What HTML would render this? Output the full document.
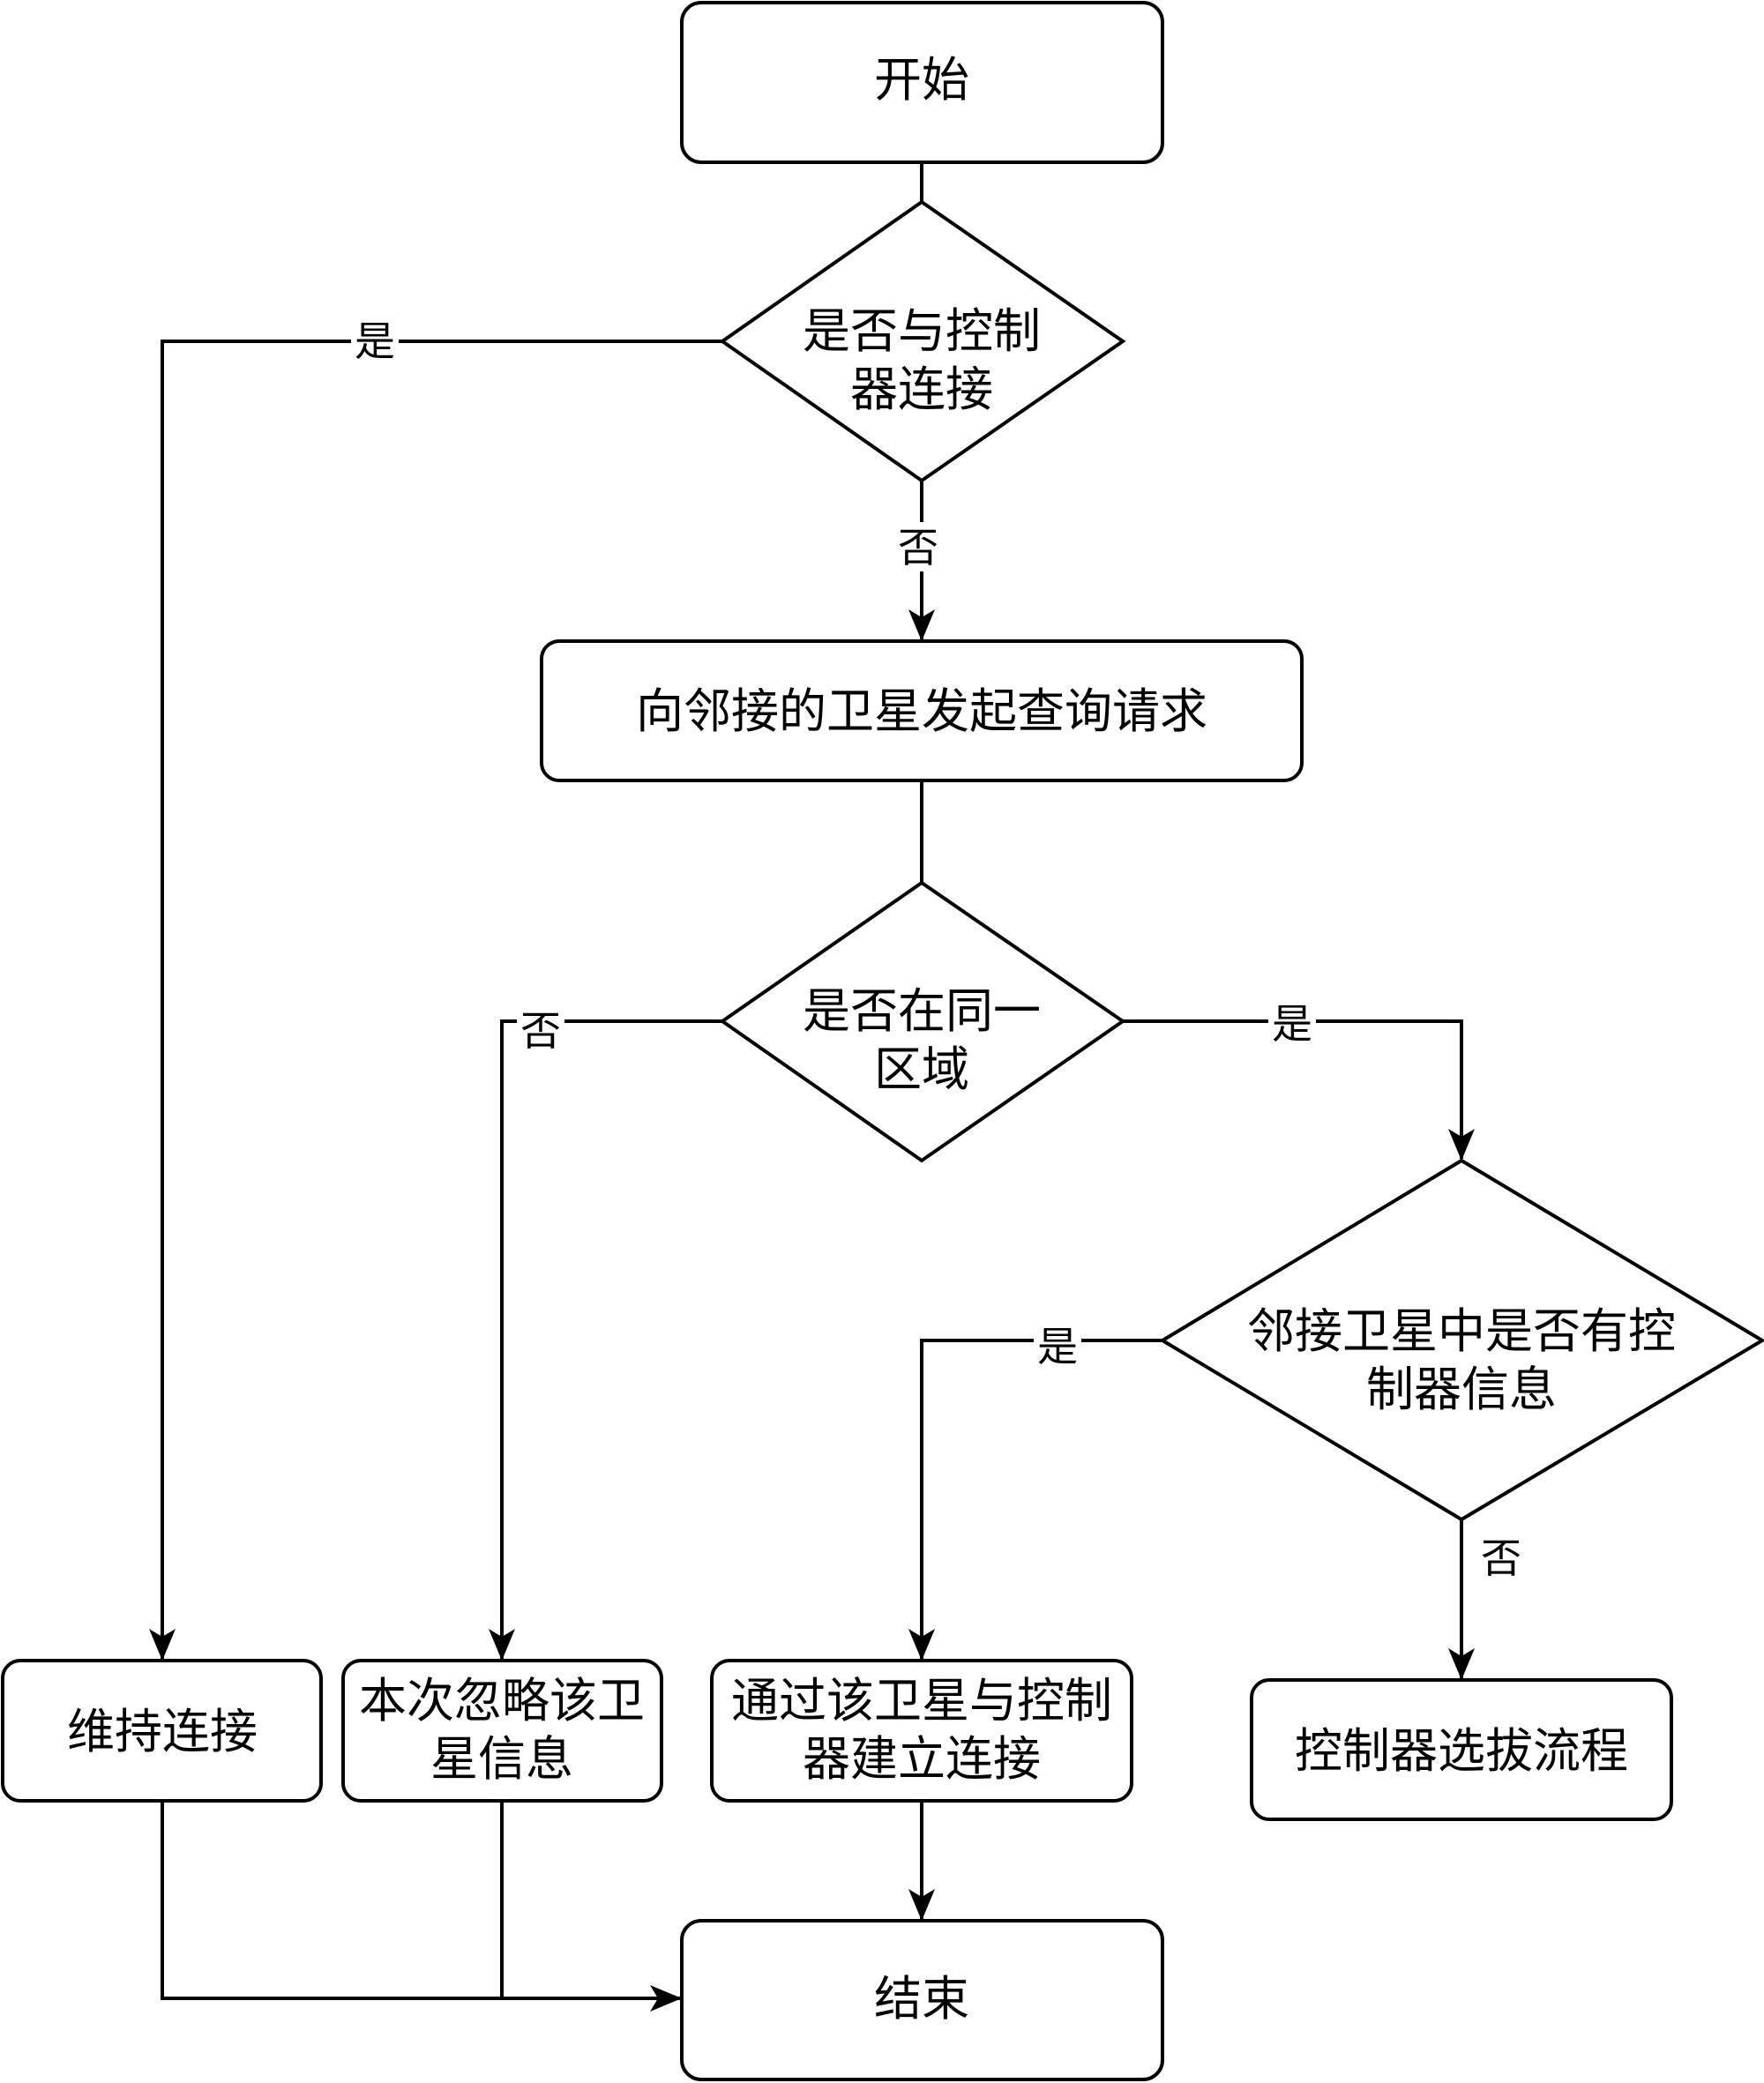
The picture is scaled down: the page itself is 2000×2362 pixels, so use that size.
<!DOCTYPE html>
<html><head><meta charset="utf-8"><style>
html,body{margin:0;padding:0;background:#fff}
svg{display:block}
text{font-family:"Liberation Sans","Noto Sans CJK SC",sans-serif;fill:#000}
</style></head><body>
<svg width="2000" height="2362" viewBox="0 0 2000 2362" xmlns="http://www.w3.org/2000/svg">
<defs>
<marker id="a" viewBox="0 0 20 20" refX="19" refY="10" markerWidth="10" markerHeight="10" markerUnits="userSpaceOnUse" orient="auto">
<path d="M0,0 L20,10 L0,20 L6,10 Z" fill="#000"/>
</marker>
</defs>
<g fill="none" stroke="#000" stroke-width="4">
<!-- connectors -->
<path d="M1045 184 V229" marker-end="url(#a)" style="marker-end:none"/>
<path d="M819 387 H184 V1881"/>
<path d="M1045 545 V725"/>
<path d="M1045 885 V1001"/>
<path d="M819 1158 H569 V1881"/>
<path d="M1273 1158 H1657 V1314"/>
<path d="M1318 1520 H1045 V1881"/>
<path d="M1657 1723 V1903"/>
<path d="M1045 2042 V2176"/>
<path d="M184 2042 V2266 H771"/>
<path d="M569 2042 V2266"/>
</g>
<g fill="#000">
<path d="M184 1883 l-15 -36 l15 9 l15 -9 Z"/>
<path d="M1045 727 l-15 -36 l15 9 l15 -9 Z"/>
<path d="M569 1883 l-15 -36 l15 9 l15 -9 Z"/>
<path d="M1657 1316 l-15 -36 l15 9 l15 -9 Z"/>
<path d="M1045 1883 l-15 -36 l15 9 l15 -9 Z"/>
<path d="M1657 1905 l-15 -36 l15 9 l15 -9 Z"/>
<path d="M1045 2178 l-15 -36 l15 9 l15 -9 Z"/>
<path d="M773 2266 l-36 -15 l9 15 l-9 15 Z"/>
</g>
<g fill="#fff" stroke="#000" stroke-width="4">
<rect x="773" y="3" width="545" height="181" rx="22"/>
<polygon points="1045,229 1273,387 1045,545 819,387"/>
<rect x="614" y="727" width="862" height="158" rx="20"/>
<polygon points="1045,1001 1273,1158 1045,1316 819,1158"/>
<polygon points="1657,1316 1998,1520 1657,1723 1318,1520"/>
<rect x="3" y="1883" width="361" height="159" rx="20"/>
<rect x="389" y="1883" width="361" height="159" rx="20"/>
<rect x="807" y="1883" width="476" height="159" rx="20"/>
<rect x="1419" y="1905" width="476" height="158" rx="20"/>
<rect x="773" y="2178" width="545" height="180" rx="22"/>
</g>
<!-- label backgrounds -->
<g fill="#fff">
<rect x="398" y="360" width="54" height="54"/>
<rect x="1015" y="592" width="54" height="56"/>
<rect x="586" y="1140" width="54" height="56"/>
<rect x="1438" y="1132" width="54" height="56"/>
<rect x="1172" y="1498" width="54" height="56"/>
</g>
<g font-size="54" text-anchor="middle">
<text x="1045" y="109">开始</text>
<text x="1045" y="394">是否与控制</text>
<text x="1045" y="460">器连接</text>
<text x="1045" y="825">向邻接的卫星发起查询请求</text>
<text x="1045" y="1165">是否在同一</text>
<text x="1045" y="1231">区域</text>
<text x="1657" y="1528">邻接卫星中是否有控</text>
<text x="1657" y="1594">制器信息</text>
<text x="184" y="1982">维持连接</text>
<text x="569" y="1947">本次忽略该卫</text>
<text x="569" y="2013">星信息</text>
<text x="1045" y="1947">通过该卫星与控制</text>
<text x="1045" y="2013">器建立连接</text>
<text x="1657" y="2004">控制器选拔流程</text>
<text x="1045" y="2285">结束</text>
</g>
<g font-size="46" text-anchor="middle">
<text x="425" y="403">是</text>
<text x="1041" y="637">否</text>
<text x="613" y="1185">否</text>
<text x="1465" y="1177">是</text>
<text x="1199" y="1543">是</text>
<text x="1702" y="1783">否</text>
</g>
</svg>
</body></html>
